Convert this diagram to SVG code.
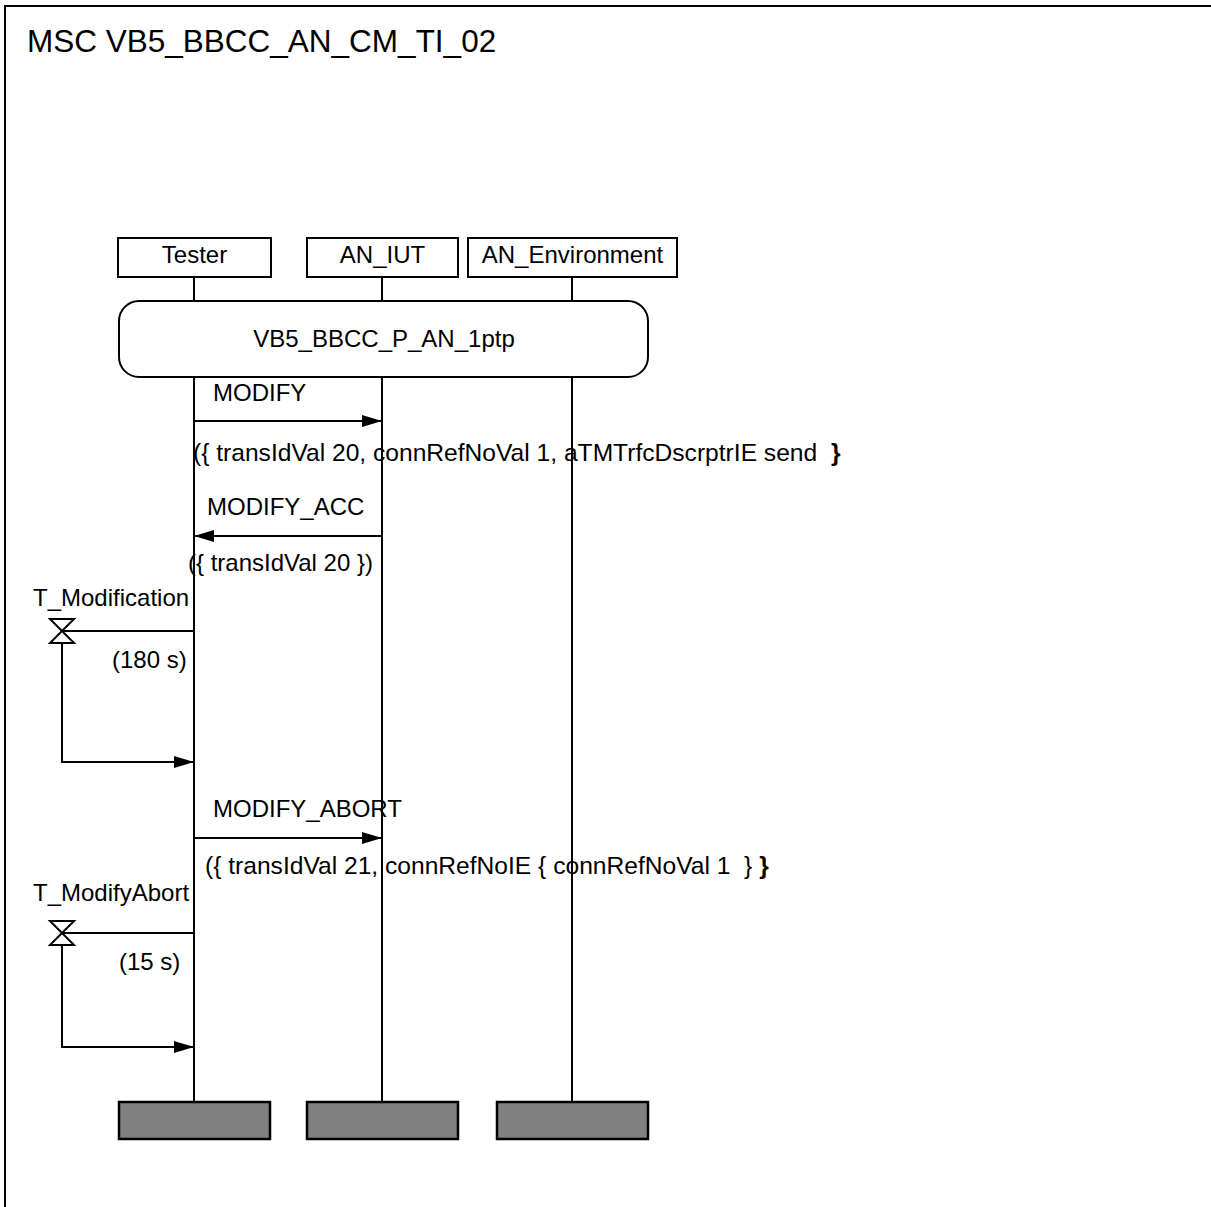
<svg xmlns="http://www.w3.org/2000/svg" width="1211" height="1207" viewBox="0 0 1211 1207">
<style>
text{font-family:"Liberation Sans",Arial,sans-serif;font-size:24px;fill:#000;white-space:pre}
.title{font-size:31.5px}
.param{font-size:24.6px}
.ln{stroke:#000;stroke-width:2;fill:none}
.box{stroke:#000;stroke-width:2;fill:#fff}
.end{stroke:#000;stroke-width:2.5;fill:#808080}
</style>
<defs>
<marker id="ah" markerWidth="20" markerHeight="12" refX="20" refY="6" orient="auto" markerUnits="userSpaceOnUse">
<path d="M0,0 L20,6 L0,12 Z" fill="#000"/>
</marker>
</defs>
<rect x="5" y="6" width="1220" height="1220" class="ln"/>
<text class="title" x="27" y="52">MSC VB5_BBCC_AN_CM_TI_02</text>

<g id="lifelines">
<line x1="194" y1="277" x2="194" y2="301" class="ln"/>
<line x1="382" y1="277" x2="382" y2="301" class="ln"/>
<line x1="572" y1="277" x2="572" y2="301" class="ln"/>
<line x1="194" y1="377" x2="194" y2="1102" class="ln"/>
<line x1="382" y1="377" x2="382" y2="1102" class="ln"/>
<line x1="572" y1="377" x2="572" y2="1102" class="ln"/>
</g>

<g id="Tester"><rect x="118" y="238" width="153" height="39" class="box"/><text x="194.5" y="263" text-anchor="middle">Tester</text></g>
<g id="AN_IUT"><rect x="307" y="238" width="151" height="39" class="box"/><text x="382.5" y="263" text-anchor="middle">AN_IUT</text></g>
<g id="AN_Environment"><rect x="468" y="238" width="209" height="39" class="box"/><text x="572.5" y="263" text-anchor="middle">AN_Environment</text></g>

<g id="ref"><rect x="119" y="301" width="529" height="76" rx="20" ry="20" class="box"/><text x="384" y="347" text-anchor="middle">VB5_BBCC_P_AN_1ptp</text></g>

<g id="connectors">
<line x1="194" y1="421" x2="382" y2="421" class="ln" marker-end="url(#ah)"/>
<line x1="382" y1="536" x2="194" y2="536" class="ln" marker-end="url(#ah)"/>
<line x1="194" y1="838" x2="382" y2="838" class="ln" marker-end="url(#ah)"/>
<line x1="62" y1="631" x2="194" y2="631" class="ln"/>
<polyline points="62,643 62,762 194,762" class="ln" marker-end="url(#ah)"/>
<line x1="62" y1="933" x2="194" y2="933" class="ln"/>
<polyline points="62,945 62,1047 194,1047" class="ln" marker-end="url(#ah)"/>
</g>

<g id="labels">
<text x="213" y="401">MODIFY</text>
<text class="param" x="193" y="461">({ transIdVal 20, connRefNoVal 1, aTMTrfcDscrptrIE send  <tspan font-weight="bold">}</tspan></text>
<text x="207" y="515">MODIFY_ACC</text>
<text x="188" y="571">({ transIdVal 20 })</text>
<text x="213" y="817">MODIFY_ABORT</text>
<text class="param" x="205" y="874">({ transIdVal 21, connRefNoIE { connRefNoVal 1  } <tspan font-weight="bold">}</tspan></text>
</g>

<g id="timer_T_Modification">
<text x="33" y="606">T_Modification</text>
<path d="M50,619 L74,619 L50,643 L74,643 Z" class="ln"/>
<text x="112" y="668">(180 s)</text>
</g>
<g id="timer_T_ModifyAbort">
<text x="33" y="901">T_ModifyAbort</text>
<path d="M50,921 L74,921 L50,945 L74,945 Z" class="ln"/>
<text x="119" y="970">(15 s)</text>
</g>

<g id="ends">
<rect x="119" y="1102" width="151" height="37" class="end"/>
<rect x="307" y="1102" width="151" height="37" class="end"/>
<rect x="497" y="1102" width="151" height="37" class="end"/>
</g>
</svg>
